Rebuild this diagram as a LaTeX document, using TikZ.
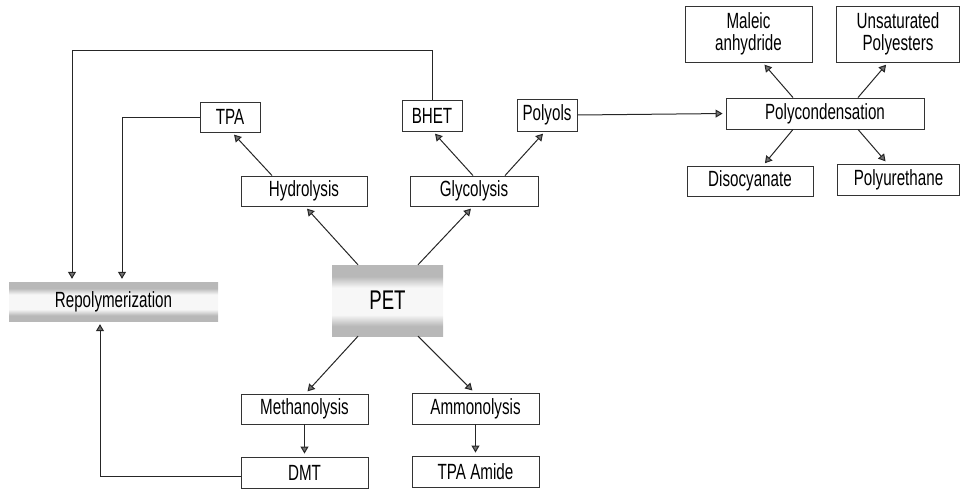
\documentclass[tikz,border=0pt]{standalone}
\usepackage{fontspec}
\setmainfont[FakeStretch=0.69]{Liberation Sans}
\usetikzlibrary{arrows.meta}
\pgfdeclareverticalshading{bandshade}{100bp}{
  rgb(0bp)=(.72,.72,.72); rgb(32bp)=(.72,.72,.72); rgb(40bp)=(.97,.97,.97);
  rgb(59bp)=(.97,.97,.97); rgb(67bp)=(.72,.72,.72); rgb(100bp)=(.72,.72,.72)}
\tikzset{
  box/.style={draw=black!80, line width=0.9pt, fill=white, inner sep=0pt, align=center,
    font=\fontsize{22}{22}\selectfont},
  shadebox/.style={inner sep=0pt, align=center, shading=bandshade,
    font=\fontsize{22}{22}\selectfont},
  conn/.style={line width=1pt, draw=black!85, -{Triangle[length=7pt,width=8pt,fill=black!55]}, shorten >=3pt}
}
\begin{document}
\begin{tikzpicture}[x=1pt,y=-1pt]
\useasboundingbox (0,0) rectangle (961,490);
% nodes
\node[box, minimum width=60pt, minimum height=30pt] (tpa) at (230,117) {TPA};
\node[box, minimum width=60pt, minimum height=31pt] (bhet) at (432,115.5) {BHET};
\node[box, minimum width=60pt, minimum height=32pt] (polyols) at (547,115) {Polyols};
\node[box, minimum width=126pt, minimum height=30pt] (hydro) at (304,191) {Hydrolysis};
\node[box, minimum width=128pt, minimum height=30pt] (glyco) at (474,191) {Glycolysis};
\node[box, minimum width=198pt, minimum height=31pt] (polycond) at (825,113.5) {Polycondensation};
\node[box, minimum width=127pt, minimum height=56pt] (maleic) at (748.5,34) {Maleic\\anhydride};
\node[box, minimum width=123pt, minimum height=56pt] (unsat) at (898,34) {Unsaturated\\Polyesters};
\node[box, minimum width=126pt, minimum height=30pt] (diso) at (750,181) {Disocyanate};
\node[box, minimum width=122pt, minimum height=31pt] (pu) at (898.5,179.5) {Polyurethane};
\node[shadebox, minimum width=209pt, minimum height=39pt] (repoly) at (113.5,301.5) {Repolymerization};
\node[shadebox, minimum width=111pt, minimum height=71pt, font=\fontsize{27}{28}\selectfont] (pet) at (387.5,300.5) {PET};
\node[box, minimum width=127pt, minimum height=30pt] (metha) at (304.5,409) {Methanolysis};
\node[box, minimum width=127pt, minimum height=31pt] (dmt) at (304.5,472.5) {DMT};
\node[box, minimum width=127pt, minimum height=31pt] (ammo) at (475.5,408.5) {Ammonolysis};
\node[box, minimum width=127pt, minimum height=31pt] (tpaam) at (475.5,471.5) {TPA Amide};
% feedback lines
\coordinate (c1) at (432,50);
\coordinate (c2) at (72,50);
\draw[conn] (bhet.north) -- (c1) -- (c2) -- (repoly.north -| c2);
\coordinate (c3) at (122,117);
\draw[conn] (tpa.west) -- (c3) -- (repoly.north -| c3);
\coordinate (c4) at (100,476);
\draw[conn] (dmt.west |- c4) -- (c4) -- (repoly.south -| c4);
\draw[conn] (polyols.east) -- (polycond.west);
% PET arrows
\draw[conn] ([xshift=-29.5pt]pet.north) -- ([xshift=1pt]hydro.south);
\draw[conn] ([xshift=30.5pt]pet.north) -- ([xshift=-1pt]glyco.south);
\draw[conn] ([xshift=-29.5pt]pet.south) -- ([xshift=1pt]metha.north);
\draw[conn] ([xshift=30.5pt]pet.south) -- ([xshift=-1pt]ammo.north);
% product arrows
\draw[conn] ([xshift=-32pt]hydro.north) -- ([xshift=2pt]tpa.south);
\draw[conn] ([xshift=-1pt]glyco.north) -- ([xshift=1pt]bhet.south);
\draw[conn] ([xshift=31pt]glyco.north) -- ([xshift=-2pt]polyols.south);
\draw[conn] ([xshift=-32pt]polycond.north) -- ([xshift=14pt]maleic.south);
\draw[conn] ([xshift=33pt]polycond.north) -- ([xshift=-10pt]unsat.south);
\draw[conn] ([xshift=-32pt]polycond.south) -- ([xshift=13pt]diso.north);
\draw[conn] ([xshift=33pt]polycond.south) -- ([xshift=-11pt]pu.north);
\draw[conn] (metha.south) -- (dmt.north);
\draw[conn] (ammo.south) -- (tpaam.north);
\end{tikzpicture}
\end{document}
